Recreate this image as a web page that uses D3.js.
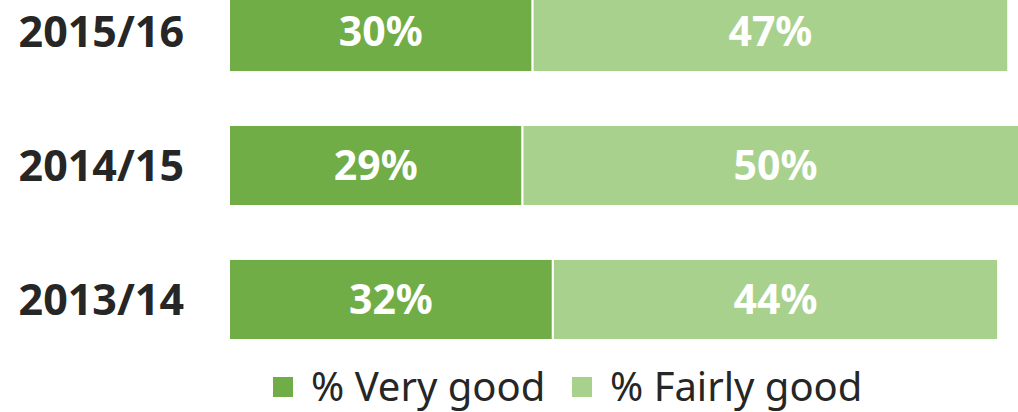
<!DOCTYPE html>
<html>
<head>
<meta charset="utf-8">
<script src="https://cdn.jsdelivr.net/npm/d3@7"></script>
<style>
  body { margin: 0; background: #fff; }
  svg { display: block; font-family: "Noto Sans", "Open Sans", sans-serif; }
</style>
</head>
<body>
<div id="chart"></div>
<script>
    const width = 1018,
        height = 412;

    // data
    const years = ["2015/16", "2014/15", "2013/14"];
    const veryGood = [30, 29, 32];
    const fairlyGood = [47, 50, 44];
    const seriesNames = ["% Very good", "% Fairly good"];
    const colors = ["#70AD47", "#A9D18E"];

    const svg = d3.select("#chart")
        .append("svg")
        .attr("width", width)
        .attr("height", height);

    // x goes from 0% to 100%, the last part runs off the right edge
    const x = d3.scaleLinear()
        .domain([0, 100])
        .range([229, 1241]);

    const y = d3.scaleBand()
        .domain(years)
        .range([-9, 340])
        .paddingInner(0.395)
        .paddingOuter(0);

    const rows = years.map(function (yr, i) {
        return { year: yr, a: veryGood[i], b: fairlyGood[i] };
    });

    const stack = d3.stack().keys(["a", "b"]);
    const layers = stack(rows);

    const g = svg.selectAll("g.layer")
        .data(layers)
        .join("g")
        .attr("class", "layer")
        .attr("fill", function (d, i) { return colors[i]; });

    g.selectAll("rect")
        .data(function (d) { return d; })
        .join("rect")
        .attr("x", function (d) { return x(d[0]); })
        .attr("y", function (d) { return y(d.data.year); })
        .attr("width", function (d) { return x(d[1]) - x(d[0]); })
        .attr("height", y.bandwidth())
        .attr("stroke", "white")
        .attr("stroke-width", 2);

    // value labels
    g.selectAll("text")
        .data(function (d) { return d; })
        .join("text")
        .attr("x", function (d) { return (x(d[0]) + x(d[1])) / 2; })
        .attr("y", function (d) { return y(d.data.year) + y.bandwidth() / 2; })
        .attr("dy", "0.36em")
        .attr("text-anchor", "middle")
        .attr("fill", "white")
        .style("font-size", "41px")
        .style("font-weight", "bold")
        .text(function (d) { return (d[1] - d[0]) + "%"; });

    // category labels
    svg.selectAll("text.cat")
        .data(years)
        .join("text")
        .attr("class", "cat")
        .attr("x", 184)
        .attr("y", function (d) { return y(d) + y.bandwidth() / 2; })
        .attr("dy", "0.36em")
        .attr("text-anchor", "end")
        .attr("fill", "#262626")
        .style("font-size", "43px")
        .style("font-weight", "bold")
        .text(function (d) { return d; });

    // legend
    const legendX = [273, 572];
    const legend = svg.selectAll("g.legend")
        .data(seriesNames)
        .join("g")
        .attr("class", "legend")
        .attr("transform", function (d, i) { return `translate(${legendX[i]}, 377)`; });

    legend.append("rect")
        .attr("width", 20)
        .attr("height", 20)
        .attr("fill", function (d, i) { return colors[i]; });

    legend.append("text")
        .attr("x", 38)
        .attr("y", 10)
        .attr("dy", "0.36em")
        .attr("fill", "#262626")
        .style("font-size", "40px")
        .text(function (d) { return d; });
</script>
</body>
</html>
